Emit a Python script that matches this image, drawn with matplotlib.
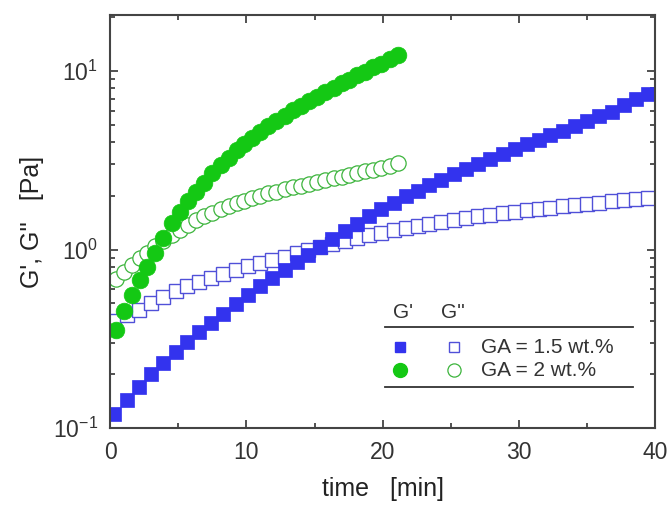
import matplotlib
matplotlib.use("Agg")
import matplotlib.pyplot as plt
from matplotlib.lines import Line2D

plt.rcParams["font.family"] = ["Liberation Sans", "DejaVu Sans"]
plt.rcParams["mathtext.fontset"] = "custom"
plt.rcParams["mathtext.rm"] = "Liberation Sans"

# GA = 1.5 wt.%
time_15 = [0.3, 1.2, 2.1, 3.0, 3.9, 4.8, 5.6, 6.5, 7.4, 8.3, 9.2, 10.1, 11.0, 11.9, 12.8,
           13.7, 14.5, 15.4, 16.3, 17.2, 18.1, 19.0, 19.9, 20.8, 21.7, 22.6, 23.4, 24.3,
           25.2, 26.1, 27.0, 27.9, 28.8, 29.7, 30.6, 31.5, 32.3, 33.2, 34.1, 35.0, 35.9,
           36.8, 37.7, 38.6, 39.5]
g1_15 = [0.120, 0.143, 0.170, 0.200, 0.232, 0.266, 0.302, 0.343, 0.389, 0.437, 0.495,
         0.556, 0.624, 0.692, 0.767, 0.851, 0.933, 1.035, 1.148, 1.274, 1.396, 1.531,
         1.679, 1.828, 1.982, 2.138, 2.291, 2.466, 2.649, 2.831, 3.020, 3.221, 3.428,
         3.648, 3.882, 4.130, 4.365, 4.634, 4.920, 5.224, 5.559, 5.916, 6.46, 6.92, 7.41]
g2_15 = [0.398, 0.427, 0.457, 0.499, 0.543, 0.586, 0.624, 0.661, 0.695, 0.731, 0.767,
         0.804, 0.841, 0.877, 0.912, 0.951, 0.989, 1.035, 1.079, 1.122, 1.164, 1.205,
         1.245, 1.282, 1.318, 1.355, 1.390, 1.426, 1.462, 1.496, 1.531, 1.563, 1.596,
         1.626, 1.656, 1.687, 1.714, 1.742, 1.770, 1.799, 1.828, 1.858, 1.888, 1.914, 1.941]

# GA = 2 wt.%
time_2 = [0.4, 1.0, 1.6, 2.2, 2.7, 3.3, 3.9, 4.5, 5.1, 5.7, 6.3, 6.9, 7.5, 8.1, 8.7, 9.3,
          9.8, 10.4, 11.0, 11.6, 12.2, 12.8, 13.4, 14.0, 14.6, 15.2, 15.8, 16.4, 17.0,
          17.5, 18.1, 18.7, 19.3, 19.9, 20.5, 21.1]
g1_2 = [0.355, 0.452, 0.556, 0.676, 0.794, 0.955, 1.16, 1.40, 1.62, 1.86, 2.11, 2.37,
        2.69, 2.99, 3.27, 3.59, 3.89, 4.22, 4.57, 4.90, 5.25, 5.62, 6.03, 6.38, 6.76,
        7.16, 7.59, 8.04, 8.51, 8.91, 9.44, 9.89, 10.5, 11.0, 11.6, 12.3]
g2_2 = [0.687, 0.75, 0.817, 0.891, 0.955, 1.04, 1.12, 1.20, 1.29, 1.38, 1.47, 1.55, 1.61,
        1.69, 1.76, 1.82, 1.87, 1.94, 2.00, 2.06, 2.11, 2.17, 2.23, 2.28, 2.33, 2.39,
        2.44, 2.50, 2.56, 2.61, 2.67, 2.74, 2.80, 2.87, 2.95, 3.04]

blue = "#3333ee"
blue_open = "#5050d8"
green = "#14c814"
green_open = "#3cb43c"

SQ = 9.4
CF = 12
CO = 11

fig = plt.figure(figsize=(6.72, 5.09), dpi=100)
ax = fig.add_axes([0.164, 0.159, 0.811, 0.811])

ax.plot(time_15, g2_15, "s", ms=SQ, mfc="white", mec=blue_open, mew=1.0, ls="none")
ax.plot(time_15, g1_15, "s", ms=SQ, mfc=blue, mec=blue, mew=0.5, ls="none")
ax.plot(time_2, g2_2, "o", ms=CO, mfc="white", mec=green_open, mew=0.9, ls="none")
ax.plot(time_2, g1_2, "o", ms=CF, mfc=green, mec=green, mew=0.5, ls="none")

ax.set_yscale("log")
ax.set_xlim(0, 40)
ax.set_ylim(0.1, 20.5)
ax.set_xticks([0, 10, 20, 30, 40])
ax.set_xticks([5, 15, 25, 35], minor=True)

for s in ax.spines.values():
    s.set_color("#444444")
    s.set_linewidth(1.5)
ax.tick_params(which="both", direction="in", top=True, right=True, colors="#333333",
               labelsize=16.5, width=1.2)
ax.tick_params(which="major", length=6, pad=9)
ax.tick_params(which="minor", length=3.5)
for lab in ax.get_xticklabels() + ax.get_yticklabels():
    lab.set_color("#333333")

ax.set_xlabel("time   [min]", fontsize=18, color="#222222", labelpad=10)
ax.set_ylabel("G', G''   [Pa]", fontsize=18, color="#222222", labelpad=6)

# hand-made legend
tr = ax.transAxes
def ax_xy(px, py):
    return ((px - 110) / 545.0, (428 - py) / 413.0)

x0, y0 = ax_xy(385, 327)
x1, _ = ax_xy(633, 327)
ax.add_line(Line2D([x0, x1], [y0, y0], transform=tr, color="#333333", lw=1.3))
_, yb = ax_xy(0, 387)
ax.add_line(Line2D([x0, x1], [yb, yb], transform=tr, color="#333333", lw=1.3))

xa, yh = ax_xy(393, 312)
xb, _ = ax_xy(441, 312)
ax.text(xa, yh, "G'", transform=tr, fontsize=15, color="#333333", va="center")
ax.text(xb, yh, "G''", transform=tr, fontsize=15, color="#333333", va="center")

xm1, yr1 = ax_xy(400, 347)
xm2, yr2 = ax_xy(454, 370)
xt, _ = ax_xy(481, 0)
ax.plot([xm1], [yr1], "s", transform=tr, ms=7.5, mfc=blue, mec=blue)
ax.plot([xm2], [yr1], "s", transform=tr, ms=7.5, mfc="white", mec=blue_open, mew=1.0)
ax.plot([xm1], [yr2], "o", transform=tr, ms=10, mfc=green, mec=green)
ax.plot([xm2], [yr2], "o", transform=tr, ms=9.5, mfc="white", mec=green_open, mew=0.9)
ax.text(xt, yr1, "GA = 1.5 wt.%", transform=tr, fontsize=15, color="#333333", va="center")
ax.text(xt, yr2, "GA = 2 wt.%", transform=tr, fontsize=15, color="#333333", va="center")

fig.savefig("out.png", dpi=100)
